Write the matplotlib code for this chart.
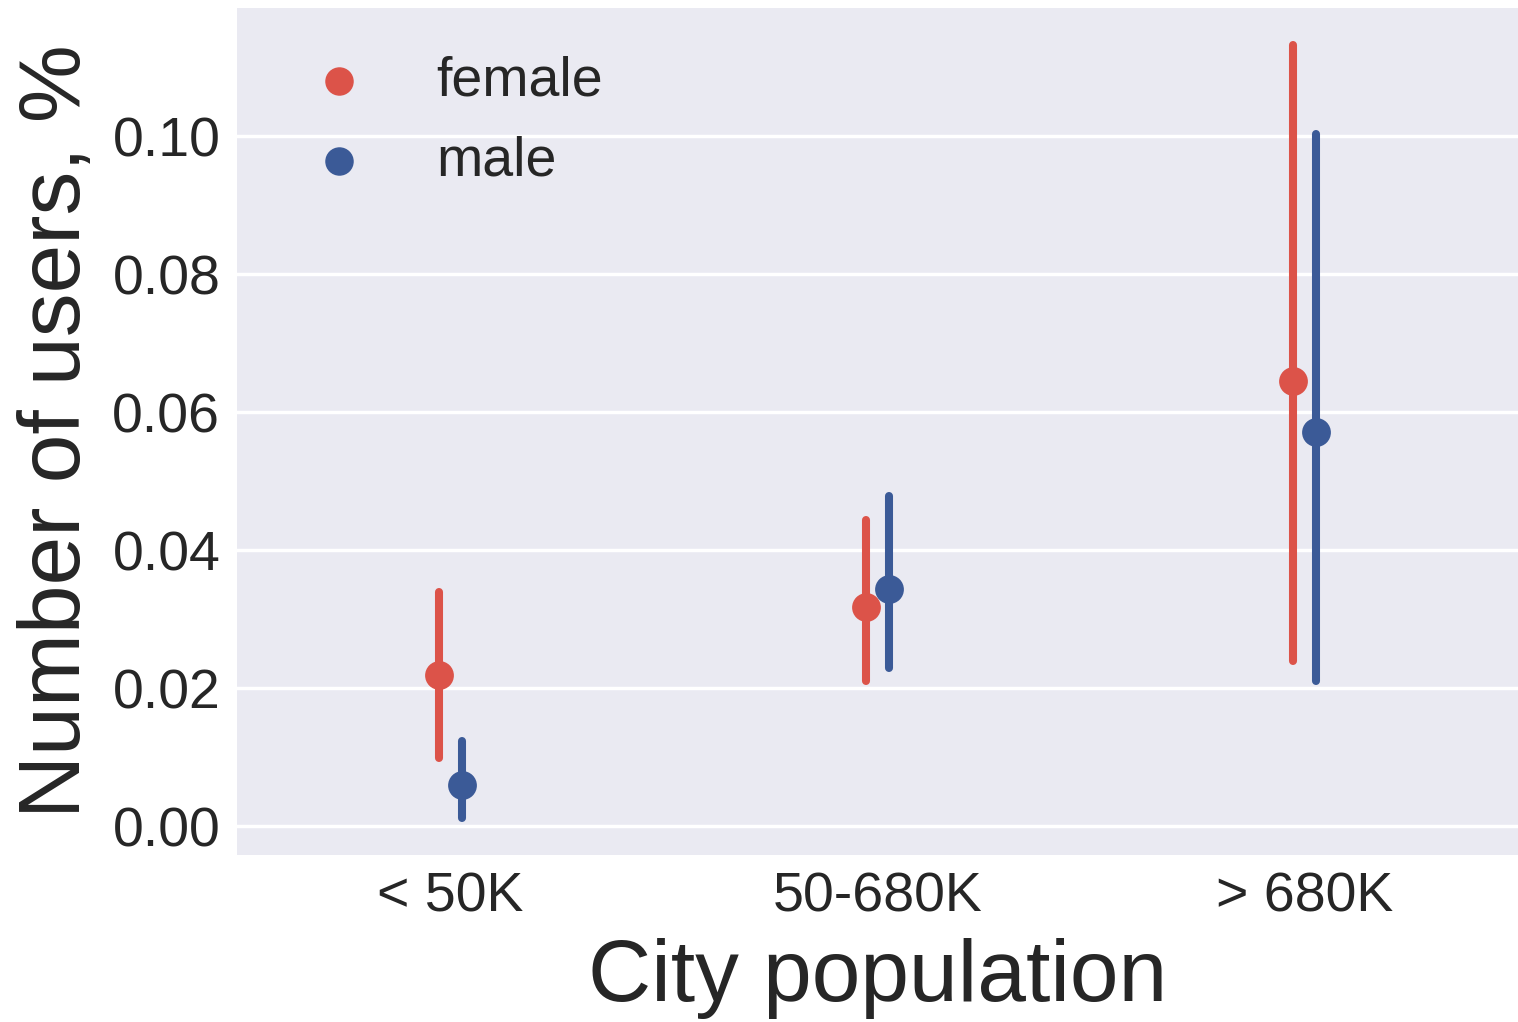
import matplotlib
matplotlib.use("Agg")
import matplotlib.pyplot as plt
import numpy as np

categories = ["< 50K", "50-680K", "> 680K"]
hues = ["female", "male"]
colors = ["#dc5349", "#3b5a97"]
means = {"female": [0.0219, 0.0317, 0.0645], "male": [0.0059, 0.0343, 0.0571]}
ci_low = {"female": [0.0099, 0.0210, 0.0239], "male": [0.0012, 0.0229, 0.0210]}
ci_high = {"female": [0.0339, 0.0443, 0.1132], "male": [0.0123, 0.0478, 0.1003]}
yticks = [0.00, 0.02, 0.04, 0.06, 0.08, 0.10]

plt.rcParams['font.family'] = ['Liberation Sans', 'DejaVu Sans']

fig = plt.figure(figsize=(15.18, 10.22), dpi=100)
ax = fig.add_axes([237/1518, 1 - 855/1022, (1518-237)/1518, (855-8)/1022])
ax.set_facecolor("#eaeaf2")
for s in ax.spines.values():
    s.set_visible(False)
ax.grid(True, axis='y', color='white', linewidth=2.5)
ax.set_axisbelow(True)

x = np.arange(len(categories))
offsets = [-0.026, 0.026]
for h, c, off in zip(hues, colors, offsets):
    xs = x + off
    lc = ax.vlines(xs, ci_low[h], ci_high[h], color=c, linewidth=5.8, zorder=2)
    lc.set_capstyle('round')
    ax.scatter(xs, means[h], s=430, color=c, zorder=3, linewidths=0)
    ax.scatter([], [], s=380, color=c, label=h)

ax.set_xlim(-0.5, 2.5)
ax.set_ylim(-0.0042, 0.1186)
ax.set_xticks(x)
ax.set_xticklabels(categories)
ax.set_yticks(yticks)
ax.set_yticklabels([f"{v:.2f}" for v in yticks])
ax.tick_params(axis='both', length=0, labelsize=40, colors='#262626', pad=12)
ax.set_xlabel("City population", fontsize=63, color='#262626', labelpad=10)
ax.set_ylabel("Number of users, %", fontsize=63, color='#262626', labelpad=10)

leg = ax.legend(loc='upper left', frameon=False, fontsize=40, handletextpad=0.75,
                borderaxespad=0.6, labelspacing=0.5, bbox_to_anchor=(-0.007, 1.009))
for t in leg.get_texts():
    t.set_color('#262626')

fig.savefig("out.png", dpi=100)
